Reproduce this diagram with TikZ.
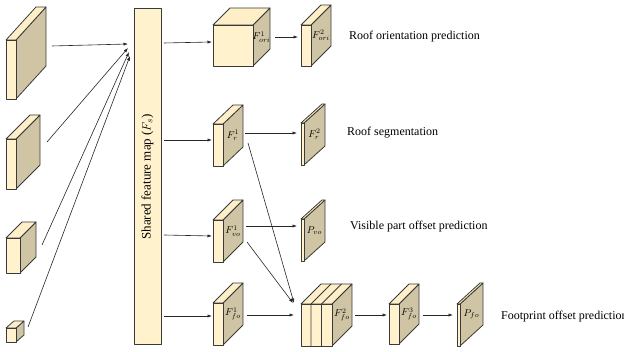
\documentclass[tikz,border=0pt]{standalone}
\usepackage{fontspec}
\setmainfont{Liberation Serif}
\usetikzlibrary{arrows.meta}

\definecolor{frontc}{HTML}{FFF2CC}
\definecolor{topc}{HTML}{FFEFC8}
\definecolor{sidec}{HTML}{CFC4A4}
\definecolor{edgec}{HTML}{3A3A3A}

\tikzset{
  face/.style={draw=edgec, line width=0.8pt, line join=round},
  arr/.style={-{Latex[length=4.5pt,width=3.2pt]}, line width=0.6pt, black!85},
  lbl/.style={inner sep=0pt, font=\fontsize{10}{11}\selectfont},
  task/.style={anchor=west, inner sep=0pt, font=\fontsize{12}{14}\selectfont},
}

% cuboid: name, x, y (front top-left, y downwards), width, height, depth-x, depth-y
\newcommand{\cuboid}[7]{%
  \filldraw[face, fill=sidec] (#2+#4,#3) -- (#2+#4+#6,#3-#7) -- (#2+#4+#6,#3+#5-#7) -- (#2+#4,#3+#5) -- cycle;
  \filldraw[face, fill=topc] (#2,#3) -- (#2+#6,#3-#7) -- (#2+#4+#6,#3-#7) -- (#2+#4,#3) -- cycle;
  \filldraw[face, fill=frontc] (#2,#3) rectangle (#2+#4,#3+#5);
  \coordinate (#1) at (#2+#4+#6/2,#3+#5/2-#7/2);
}

% connector between two named end points
\newcommand{\link}[3]{%
  \coordinate (#1-s) at (#2);
  \coordinate (#1-e) at (#3);
  \draw[arr] (#1-s) -- (#1-e);
}

\begin{document}
\begin{tikzpicture}[x=1pt, y=-1pt]
\useasboundingbox (0,0) rectangle (624,352);

% multi-scale inputs
\cuboid{in1}{6}{40}{10}{59}{30}{33}
\cuboid{in2}{6}{139}{10}{50}{24}{24}
\cuboid{in3}{6}{238}{14}{35}{16}{16}
\cuboid{in4}{6}{328}{10}{14}{8}{7}

% shared feature map
\node[face, fill=frontc, minimum width=27pt, minimum height=336pt, anchor=north west, inner sep=0pt] (bar) at (134,8) {};
\node[rotate=90, inner sep=0pt, font=\fontsize{13}{15}\selectfont] (bartext) at (147.5,177) {Shared feature map ($F_s$)};

% orientation branch
\cuboid{fori1}{213}{25}{40}{41}{17}{17}
\cuboid{fori2}{301}{25}{10}{41}{20}{20}
\node[lbl] (lfori1) at (fori1) {$F^1_{ori}$};
\node[lbl] (lfori2) at (fori2) {$F^2_{ori}$};

% segmentation branch
\cuboid{fr1}{213}{124}{10}{42}{20}{19}
\cuboid{fr2}{301}{123}{3}{42}{21}{19}
\node[lbl] (lfr1) at (fr1) {$F^1_{r}$};
\node[lbl] (lfr2) at (fr2) {$F^2_{r}$};

% visible part offset branch
\cuboid{fvo1}{213}{220}{10}{42}{20}{20}
\cuboid{pvo}{301}{219}{3}{42}{21}{19}
\node[lbl] (lfvo1) at (fvo1) {$F^1_{vo}$};
\node[lbl] (lpvo) at (pvo) {$P_{vo}$};

% footprint offset branch
\cuboid{ffo1}{213}{303}{10}{42}{20}{20}
\cuboid{ffo2}{301}{304}{31}{42}{20}{20}
\draw[face] (311,304) -- (311,346) (311,304) -- (331,284);
\draw[face] (321.5,304) -- (321.5,346) (321.5,304) -- (341.5,284);
\cuboid{ffo3}{389}{304}{10}{40}{20}{20}
\cuboid{pfo}{457}{304}{3}{42}{23}{21}
\node[lbl] (lffo1) at (ffo1) {$F^1_{fo}$};
\node[lbl] (lffo2) at (ffo2) {$F^2_{fo}$};
\node[lbl] (lffo3) at (ffo3) {$F^3_{fo}$};
\node[lbl] (lpfo) at (pfo) {$P_{fo}$};

% inputs into the shared map
\link{a1}{52,46}{128,44}
\link{a2}{47,142}{128,48}
\link{a3}{42,245}{129,52}
\link{a4}{28,327}{130,56}

% shared map into the branches
\link{b1}{164,43}{212,42}
\link{b2}{164,140}{212,140}
\link{b3}{164,235}{212,236}
\link{b4}{164,316}{212,316}

% branch connectors
\link{c1}{275,37}{298,37}
\link{c2}{245,133}{297,133}
\link{c3}{246,226}{297,226}
\link{c4}{248,143}{294,303}
\link{c5}{247,242}{293,303}
\link{c6}{247,315}{294,315}
\link{c7}{355,315}{387,315}
\link{c8}{423,315}{453,315}

% task names
\node[task] (t1) at (349,37) {Roof orientation prediction};
\node[task] (t2) at (347,133) {Roof segmentation};
\node[task] (t3) at (350,227) {Visible part offset prediction};
\node[task] (t4) at (501,317) {Footprint offset prediction};
\end{tikzpicture}
\end{document}
